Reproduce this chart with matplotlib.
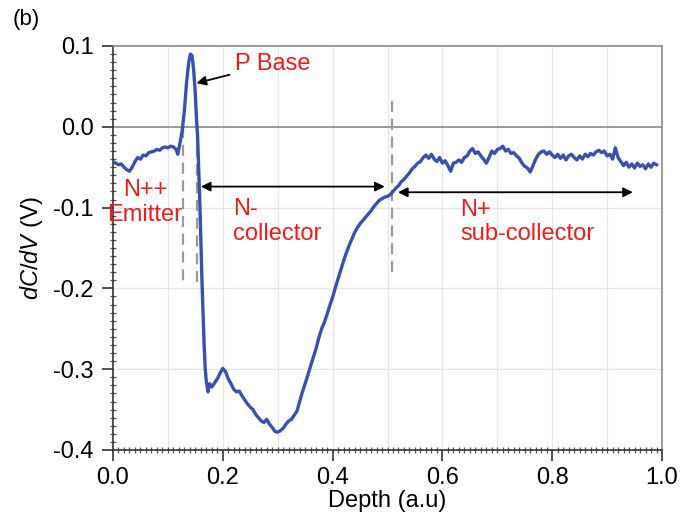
import numpy as np
import matplotlib.pyplot as plt
from matplotlib.ticker import MultipleLocator

plt.rcParams['font.family'] = ['Liberation Sans', 'DejaVu Sans']
plt.rcParams['mathtext.fontset'] = 'custom'
plt.rcParams['mathtext.it'] = 'Liberation Sans:italic'
plt.rcParams['mathtext.rm'] = 'Liberation Sans'

# depth (a.u) and dC/dV (V)
depth = [0.000, 0.005, 0.010, 0.015, 0.020, 0.025, 0.030, 0.035, 0.040, 0.045,
         0.050, 0.055, 0.060, 0.065, 0.070, 0.075, 0.080, 0.085, 0.090, 0.095,
         0.100, 0.105, 0.110, 0.115, 0.118, 0.122, 0.126, 0.130, 0.134, 0.138,
         0.141, 0.144, 0.147, 0.150, 0.152, 0.154, 0.156, 0.158, 0.160, 0.162,
         0.164, 0.166, 0.168, 0.170, 0.173, 0.176, 0.180, 0.185, 0.190, 0.195,
         0.200, 0.205, 0.210, 0.215, 0.220, 0.225, 0.230, 0.235, 0.240, 0.245,
         0.250, 0.255, 0.260, 0.265, 0.270, 0.275, 0.280, 0.285, 0.290, 0.295,
         0.300, 0.305, 0.310, 0.315, 0.320, 0.325, 0.330, 0.335, 0.340, 0.345,
         0.350, 0.355, 0.360, 0.365, 0.370, 0.375, 0.380, 0.385, 0.390, 0.395,
         0.400, 0.405, 0.410, 0.415, 0.420, 0.425, 0.430, 0.435, 0.440, 0.445,
         0.450, 0.455, 0.460, 0.465, 0.470, 0.475, 0.480, 0.485, 0.490, 0.495,
         0.500, 0.505, 0.510, 0.515, 0.520, 0.525, 0.530, 0.535, 0.540, 0.545,
         0.550, 0.555, 0.560, 0.565, 0.570, 0.575, 0.580, 0.585, 0.590, 0.595,
         0.600, 0.605, 0.610, 0.615, 0.620, 0.625, 0.630, 0.635, 0.640, 0.645,
         0.650, 0.655, 0.660, 0.665, 0.670, 0.675, 0.680, 0.685, 0.690, 0.695,
         0.700, 0.705, 0.710, 0.715, 0.720, 0.725, 0.730, 0.735, 0.740, 0.745,
         0.750, 0.755, 0.760, 0.765, 0.770, 0.775, 0.780, 0.785, 0.790, 0.795,
         0.800, 0.805, 0.810, 0.815, 0.820, 0.825, 0.830, 0.835, 0.840, 0.845,
         0.850, 0.855, 0.860, 0.865, 0.870, 0.875, 0.880, 0.885, 0.890, 0.895,
         0.900, 0.905, 0.910, 0.915, 0.920, 0.925, 0.930, 0.935, 0.940, 0.945,
         0.950, 0.955, 0.960, 0.965, 0.970, 0.975, 0.980, 0.985, 0.990]
dcdv = [-0.043, -0.045, -0.047, -0.046, -0.050, -0.053, -0.055, -0.050, -0.043, -0.038,
        -0.040, -0.035, -0.036, -0.032, -0.031, -0.030, -0.028, -0.029, -0.026, -0.025,
        -0.026, -0.024, -0.025, -0.028, -0.034, -0.020, -0.005, 0.020, 0.055, 0.080,
        0.090, 0.088, 0.070, 0.040, 0.010, -0.010, -0.050, -0.090, -0.140, -0.190,
        -0.230, -0.270, -0.300, -0.315, -0.328, -0.318, -0.322, -0.317, -0.312, -0.305,
        -0.299, -0.303, -0.312, -0.318, -0.325, -0.328, -0.327, -0.333, -0.338, -0.343,
        -0.347, -0.350, -0.356, -0.360, -0.364, -0.366, -0.362, -0.368, -0.372, -0.377,
        -0.378, -0.376, -0.373, -0.368, -0.364, -0.362, -0.357, -0.352, -0.340, -0.328,
        -0.318, -0.307, -0.296, -0.285, -0.274, -0.261, -0.250, -0.242, -0.232, -0.221,
        -0.211, -0.199, -0.188, -0.177, -0.166, -0.156, -0.147, -0.139, -0.131, -0.125,
        -0.120, -0.116, -0.112, -0.108, -0.104, -0.099, -0.095, -0.091, -0.089, -0.087,
        -0.086, -0.084, -0.080, -0.076, -0.073, -0.068, -0.065, -0.061, -0.057, -0.052,
        -0.049, -0.045, -0.043, -0.038, -0.035, -0.039, -0.034, -0.040, -0.043, -0.038,
        -0.045, -0.042, -0.048, -0.055, -0.045, -0.044, -0.041, -0.044, -0.038, -0.036,
        -0.030, -0.027, -0.033, -0.031, -0.036, -0.040, -0.045, -0.038, -0.030, -0.033,
        -0.028, -0.027, -0.024, -0.030, -0.028, -0.033, -0.032, -0.036, -0.039, -0.045,
        -0.049, -0.051, -0.056, -0.048, -0.040, -0.034, -0.031, -0.030, -0.034, -0.031,
        -0.035, -0.038, -0.034, -0.039, -0.035, -0.041, -0.036, -0.034, -0.038, -0.041,
        -0.036, -0.040, -0.034, -0.037, -0.033, -0.035, -0.031, -0.029, -0.032, -0.030,
        -0.036, -0.034, -0.040, -0.026, -0.038, -0.043, -0.048, -0.044, -0.050, -0.046,
        -0.051, -0.045, -0.049, -0.047, -0.052, -0.046, -0.050, -0.045, -0.047]

xticks = [0.0, 0.2, 0.4, 0.6, 0.8, 1.0]
yticks = [-0.4, -0.3, -0.2, -0.1, 0.0, 0.1]

fig = plt.figure(figsize=(6.92, 5.14), dpi=100)
ax = fig.add_axes([113/692, 1 - 450/514, 549/692, 404/514])

ax.set_xlim(0, 1.0)
ax.set_ylim(-0.4, 0.1)

# grid
for gx in np.arange(0.1, 1.0, 0.1):
    ax.axvline(gx, color='#e6e6e6', lw=0.9, zorder=0)
for gy in [-0.3, -0.2, -0.1]:
    ax.axhline(gy, color='#e6e6e6', lw=0.9, zorder=0)
ax.axhline(0.0, color='#8a8a8a', lw=1.2, zorder=1)

# region boundaries
ax.plot([0.127, 0.127], [0.0, -0.197], color='#9a9a9a', lw=1.6, ls=(0, (5, 3)), zorder=2)
ax.plot([0.153, 0.153], [0.02, -0.192], color='#9a9a9a', lw=1.6, ls=(0, (5, 3)), zorder=2)
ax.plot([0.508, 0.508], [0.032, -0.18], color='#9a9a9a', lw=1.6, ls=(0, (5, 3)), zorder=2)

ax.plot(depth, dcdv, color='#3a4fae', lw=2.4, zorder=3)

# arrows
ax.annotate('', xy=(0.155, -0.074), xytext=(0.500, -0.074),
            arrowprops=dict(arrowstyle='<|-|>', color='black', lw=1.3, mutation_scale=14))
ax.annotate('', xy=(0.514, -0.081), xytext=(0.952, -0.081),
            arrowprops=dict(arrowstyle='<|-|>', color='black', lw=1.3, mutation_scale=14))
ax.annotate('P Base', xy=(0.152, 0.054), xytext=(0.222, 0.078),
            color='#ee1c1c', fontsize=17, va='center',
            arrowprops=dict(arrowstyle='-|>', color='black', lw=1.3, mutation_scale=14,
                            shrinkA=2, shrinkB=0))

ax.text(0.058, -0.094, 'N++\nEmitter', color='#ee1c1c', fontsize=17,
        ha='center', va='center', linespacing=1.2)
ax.text(0.218, -0.117, 'N-\ncollector', color='#ee1c1c', fontsize=17,
        ha='left', va='center', linespacing=1.15)
ax.text(0.632, -0.118, 'N+\nsub-collector', color='#ee1c1c', fontsize=17,
        ha='left', va='center', linespacing=1.15)

# axes styling
for s in ['top', 'right']:
    ax.spines[s].set_color('#8a8a8a')
    ax.spines[s].set_linewidth(1.2)
for s in ['left', 'bottom']:
    ax.spines[s].set_color('#333333')
    ax.spines[s].set_linewidth(1.2)

ax.set_xticks(xticks)
ax.set_yticks(yticks)
ax.set_xticklabels(['%.1f' % v for v in xticks])
ax.set_yticklabels(['%.1f' % v for v in yticks])
ax.xaxis.set_minor_locator(MultipleLocator(0.01))
ax.yaxis.set_minor_locator(MultipleLocator(0.01))
ax.tick_params(axis='both', which='major', labelsize=17, length=8, width=1.2,
               color='#333333', direction='out')
ax.tick_params(axis='y', which='major', pad=6)
ax.tick_params(axis='x', which='major', pad=4)
ax.tick_params(axis='both', which='minor', length=5, width=0.9,
               color='#555555', direction='inout')

ax.set_xlabel('Depth (a.u)', fontsize=17, labelpad=1)
ax.set_ylabel(r'$dC/dV$ (V)', fontsize=17, labelpad=6)

fig.text(13/692, 1 - 20/514, '(b)', fontsize=16, va='center', ha='left')

plt.savefig('out.png', dpi=100)
